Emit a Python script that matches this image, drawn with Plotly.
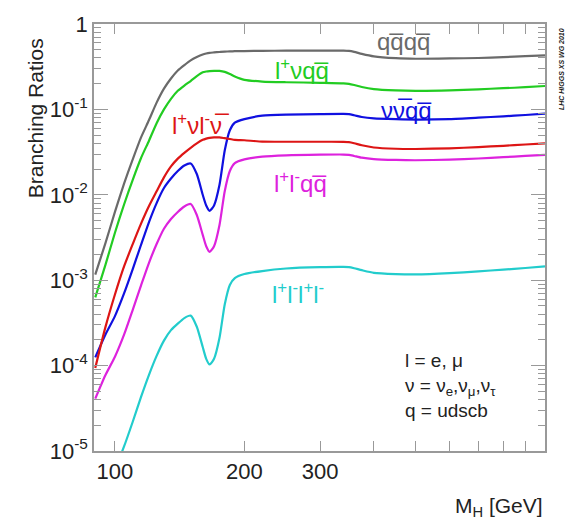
import plotly.graph_objects as go

# Higgs mass grid (GeV)
mass = [90, 95, 100, 105, 110, 115, 120, 125, 130, 135, 140, 145, 150, 155, 160, 163, 166,
        170, 175, 180, 185, 190, 200, 220, 250, 300, 340, 350, 360, 375, 400, 450, 500, 600, 700, 800, 900, 1000]

br_qqqq = [1.16e-3, 2.7e-3, 6.3e-3, 1.35e-2, 2.6e-2, 4.7e-2, 7.5e-2, 0.12, 0.175, 0.23, 0.285, 0.33,
           0.375, 0.41, 0.44, 0.452, 0.46, 0.465, 0.47, 0.475, 0.478, 0.48, 0.482, 0.485, 0.487, 0.489,
           0.488, 0.484, 0.472, 0.447, 0.418, 0.398, 0.392, 0.395, 0.40, 0.41, 0.42, 0.428]

br_lvqq = [6.3e-4, 1.5e-3, 3.6e-3, 7.7e-3, 1.5e-2, 2.7e-2, 4.3e-2, 6.9e-2, 0.10, 0.133, 0.165, 0.19,
           0.215, 0.245, 0.272, 0.278, 0.281, 0.283, 0.282, 0.275, 0.26, 0.243, 0.222, 0.212, 0.208, 0.205,
           0.202, 0.199, 0.193, 0.183, 0.173, 0.167, 0.165, 0.167, 0.172, 0.177, 0.182, 0.188]

br_vvqq = [1.25e-4, 2.3e-4, 3.8e-4, 7e-4, 1.35e-3, 2.6e-3, 4.8e-3, 8e-3, 1.2e-2, 1.55e-2, 1.9e-2, 2.2e-2,
           2.33e-2, 1.75e-2, 1.0e-2, 7.5e-3, 6.5e-3, 7.5e-3, 1.3e-2, 3.3e-2, 5.7e-2, 7.0e-2, 7.7e-2, 8.45e-2,
           8.7e-2, 8.8e-2, 8.85e-2, 8.8e-2, 8.55e-2, 8.15e-2, 7.85e-2, 7.68e-2, 7.6e-2, 7.7e-2, 8.0e-2, 8.3e-2, 8.6e-2, 8.9e-2]

br_lvlv = [9.4e-5, 2.8e-4, 6.8e-4, 1.45e-3, 2.65e-3, 4.6e-3, 7.4e-3, 1.1e-2, 1.6e-2, 2.15e-2, 2.65e-2, 3.1e-2,
           3.55e-2, 4.0e-2, 4.4e-2, 4.55e-2, 4.65e-2, 4.7e-2, 4.7e-2, 4.6e-2, 4.5e-2, 4.4e-2, 4.35e-2, 4.2e-2,
           4.18e-2, 4.18e-2, 4.17e-2, 4.14e-2, 4.02e-2, 3.8e-2, 3.58e-2, 3.46e-2, 3.44e-2, 3.5e-2, 3.62e-2, 3.75e-2, 3.88e-2, 4.0e-2]

br_llqq = [4.1e-5, 7.7e-5, 1.27e-4, 2.3e-4, 4.5e-4, 8.7e-4, 1.6e-3, 2.65e-3, 4.0e-3, 5.2e-3, 6.3e-3, 7.3e-3,
           7.8e-3, 5.8e-3, 3.4e-3, 2.5e-3, 2.15e-3, 2.5e-3, 4.4e-3, 1.1e-2, 1.9e-2, 2.35e-2, 2.6e-2, 2.8e-2,
           2.9e-2, 2.95e-2, 2.96e-2, 2.94e-2, 2.85e-2, 2.72e-2, 2.62e-2, 2.56e-2, 2.54e-2, 2.58e-2, 2.66e-2, 2.76e-2, 2.85e-2, 2.94e-2]

br_llll = [2.0e-6, 3.8e-6, 6.2e-6, 1.13e-5, 2.2e-5, 4.3e-5, 7.8e-5, 1.3e-4, 1.96e-4, 2.6e-4, 3.1e-4, 3.6e-4,
           3.85e-4, 2.85e-4, 1.65e-4, 1.2e-4, 1.03e-4, 1.2e-4, 2.1e-4, 5.2e-4, 8.8e-4, 1.06e-3, 1.18e-3, 1.28e-3,
           1.37e-3, 1.42e-3, 1.43e-3, 1.42e-3, 1.38e-3, 1.31e-3, 1.22e-3, 1.18e-3, 1.17e-3, 1.21e-3, 1.27e-3, 1.33e-3, 1.39e-3, 1.45e-3]

series = [
    (br_qqqq, "#6a6a6a", "qq̅qq̅"),
    (br_lvqq, "#22cc22", "l⁺νqq̅"),
    (br_vvqq, "#1010e0", "νν̅qq̅"),
    (br_lvlv, "#dd1515", "l⁺νl⁻ν̅"),
    (br_llqq, "#dd22dd", "l⁺l⁻qq̅"),
    (br_llll, "#22cccc", "l⁺l⁻l⁺l⁻"),
]

x_tickvals = [100, 200, 300, 400, 500, 600, 700, 800, 900, 1000]
x_ticktext = ["100", "200", "300", "", "", "", "", "", "", "1000"]
y_tickvals = [1e-5, 1e-4, 1e-3, 1e-2, 1e-1, 1]
y_ticktext = ["10<sup>-5</sup>", "10<sup>-4</sup>", "10<sup>-3</sup>", "10<sup>-2</sup>", "10<sup>-1</sup>", "1"]
y_minor = [k * 10.0 ** e for e in range(-5, 0) for k in range(2, 10)]

FONT = "Liberation Sans, Arial, Helvetica, sans-serif"

fig = go.Figure()
for vals, col, name in series:
    fig.add_trace(go.Scatter(x=mass, y=vals, mode="lines", name=name,
                             line=dict(color=col, width=2.2, shape="spline", smoothing=0.6),
                             showlegend=False, hoverinfo="skip"))

axis_common = dict(type="log", showgrid=False, zeroline=False, showline=True,
                   linecolor="#999999", linewidth=1.5, mirror="ticks", ticks="inside",
                   tickcolor="#999999", tickwidth=1.2,
                   tickfont=dict(family=FONT, size=22, color="#222222"))

fig.update_xaxes(range=[1.9513, 3.0], tickmode="array", tickvals=x_tickvals, ticktext=x_ticktext,
                 ticklen=10, **axis_common)
fig.update_yaxes(range=[-5, 0], tickmode="array", tickvals=y_tickvals, ticktext=y_ticktext,
                 ticklen=14,
                 minor=dict(tickmode="array", tickvals=y_minor, ticks="inside", ticklen=7,
                            tickcolor="#999999", tickwidth=1.2, showgrid=False),
                 **axis_common)

def lab(text, x, y, color, size=24, xanchor="center", angle=0, italic=False):
    fig.add_annotation(text=text, x=x, y=y, xref="paper", yref="paper", showarrow=False,
                       xanchor=xanchor, yanchor="middle", textangle=angle,
                       font=dict(family=FONT, size=size, color=color,
                                 style="italic" if italic else "normal"))

lab("qq̅qq̅", 0.687, 0.960, "#6a6a6a")
lab("l<sup>+</sup>νqq̅", 0.461, 0.894, "#22cc22")
lab("l<sup>+</sup>νl<sup>-</sup>ν̅", 0.237, 0.765, "#dd1515")
lab("νν̅qq̅", 0.692, 0.797, "#1010e0")
lab("l<sup>+</sup>l<sup>-</sup>qq̅", 0.457, 0.631, "#dd22dd")
lab("l<sup>+</sup>l<sup>-</sup>l<sup>+</sup>l<sup>-</sup>", 0.453, 0.371, "#22cccc")

lab("l = e, μ", 0.685, 0.212, "#222222", size=19, xanchor="left")
lab("ν = ν<sub>e</sub>,ν<sub>μ</sub>,ν<sub>τ</sub>", 0.685, 0.150, "#222222", size=19, xanchor="left")
lab("q = udscb", 0.685, 0.094, "#222222", size=19, xanchor="left")

lab("Branching Ratios", -0.131, 0.779, "#222222", size=21, angle=-90)
lab("M<sub>H</sub> [GeV]", 1.0, -0.131, "#222222", size=21, xanchor="right")
lab("<b>LHC HIGGS XS WG 2010</b>", 1.035, 0.894, "#222222", size=7, angle=-90, italic=True)

fig.update_layout(width=569, height=523, margin=dict(l=94, r=24, t=17, b=72),
                  paper_bgcolor="white", plot_bgcolor="white")

fig.write_html("out.html")
